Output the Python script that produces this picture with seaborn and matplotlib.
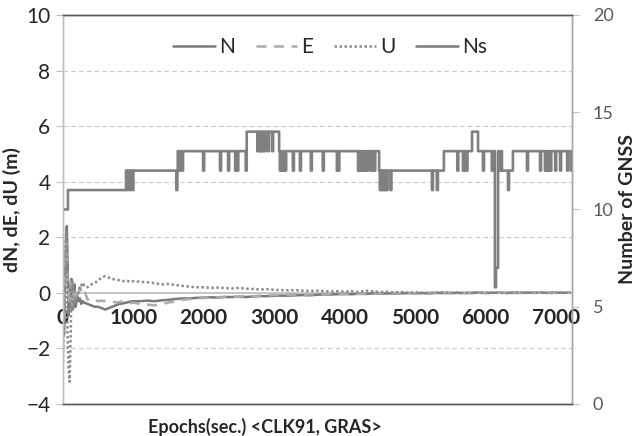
import numpy as np
import pandas as pd
import matplotlib
matplotlib.use("Agg")
import matplotlib.pyplot as plt
import seaborn as sns

# ---- position errors (m) ----
epochs = [0, 15, 30, 45, 55, 65, 80, 95, 110, 120,
          135, 150, 165, 180, 200, 220, 240, 260, 280, 300,
          350, 400, 450, 500, 550, 600, 650, 700, 750, 800,
          850, 900, 950, 1000] + list(range(1100, 7300, 100))

dN = [0.0, -1.5, 0.8, 2.0, 2.4, 1.2, -0.8, -0.5, 0.3, 0.5,
      -0.6, -0.2, 0.3, -0.5, -0.1, -0.3, -0.2, -0.4, -0.3, -0.35,
      -0.4, -0.45, -0.5, -0.5, -0.55, -0.6, -0.55, -0.5, -0.45, -0.4,
      -0.38, -0.35, -0.32, -0.3,
      -0.3, -0.28, -0.3, -0.27, -0.25, -0.22, -0.2, -0.2, -0.18, -0.17,
      -0.16, -0.17, -0.15, -0.15, -0.14, -0.15, -0.13, -0.12, -0.12, -0.11,
      -0.1, -0.1, -0.09, -0.08, -0.09, -0.07, -0.06, -0.06, -0.05, -0.04,
      -0.05, -0.03, -0.04, -0.02, -0.03, -0.02, -0.03, -0.02, -0.01, -0.02,
      -0.01, -0.02, 0.0, -0.01, -0.01, 0.0, -0.01, 0.0, 0.01, 0.0,
      0.0, 0.01, 0.0, 0.01, 0.0, 0.01, 0.0, 0.01, 0.0, 0.01,
      0.0, 0.01]

dE = [0.0, -0.8, 1.2, 1.8, 1.5, 0.5, -0.4, 0.2, 0.4, -0.3,
      -0.5, 0.1, 0.2, -0.2, 0.1, 0.0, 0.2, 0.1, 0.2, 0.1,
      -0.25, -0.2, -0.25, -0.3, -0.28, -0.3, -0.32, -0.3, -0.35, -0.33,
      -0.3, -0.35, -0.38, -0.35,
      -0.4, -0.42, -0.45, -0.4, -0.35, -0.3, -0.25, -0.22, -0.2, -0.18,
      -0.17, -0.16, -0.14, -0.15, -0.13, -0.12, -0.12, -0.1, -0.1, -0.08,
      -0.09, -0.07, -0.06, -0.07, -0.05, -0.05, -0.06, -0.04, -0.03, -0.05,
      -0.02, -0.04, -0.03, 0.02, -0.02, -0.01, -0.03, -0.01, 0.0, -0.02,
      -0.01, 0.0, -0.01, 0.01, 0.0, -0.01, 0.0, 0.01, 0.0, -0.01,
      0.0, 0.01, 0.0, -0.01, 0.0, 0.01, 0.0, 0.0, 0.01, 0.0,
      0.01, 0.0]

dU = [-2.5, -1.0, 1.5, 2.2, 1.0, -1.5, -2.8, -3.2, -1.5, 0.0,
      0.4, -0.6, -0.2, -0.3, -0.1, 0.0, 0.2, 0.3, 0.2, 0.3,
      0.2, 0.3, 0.35, 0.45, 0.55, 0.6, 0.55, 0.5, 0.48, 0.45,
      0.42, 0.45, 0.4, 0.42,
      0.4, 0.38, 0.35, 0.3, 0.32, 0.28, 0.25, 0.22, 0.2, 0.2,
      0.18, 0.19, 0.17, 0.16, 0.18, 0.15, 0.14, 0.12, 0.13, 0.11,
      0.1, 0.09, 0.1, 0.08, 0.07, 0.08, 0.06, 0.05, 0.06, 0.04,
      0.06, 0.03, 0.08, 0.05, 0.03, 0.04, 0.02, 0.03, 0.01, 0.02,
      0.01, 0.0, 0.01, 0.02, 0.0, 0.01, 0.0, -0.01, 0.01, 0.0,
      0.01, 0.0, -0.01, 0.0, 0.01, 0.0, 0.0, 0.01, -0.01, 0.0,
      0.01, 0.0]

# ---- number of satellites: base levels and short dips ----
ns_level_epochs = [0, 70, 895, 1630, 2610, 3070, 4490, 5410, 5810, 5895, 6235, 6390]
ns_level_values = [10, 11, 12, 13, 14, 13, 12, 13, 14, 13, 12, 13]

ns_dip_epochs = [910, 950, 985, 1610,
                 1650, 1690, 1990, 2230, 2345, 2445, 2475, 2595,
                 2760, 2785, 2810, 2835, 2860, 2910, 2970,
                 3080, 3105, 3130, 3155, 3265, 3365, 3520, 3690,
                 3890, 3910, 4190, 4215, 4240, 4270, 4295, 4320, 4370, 4395, 4420,
                 4500, 4520, 4545, 4570, 4595, 4650, 5240, 5310,
                 5600, 5680, 5705, 5730,
                 5965, 6090, 6110, 6135, 6150, 6165, 6200, 6215,
                 6320,
                 6590, 6775, 6845, 6870, 6895, 6920, 6990, 7060, 7160, 7215]
ns_dip_values = [11, 11, 11, 11,
                 12, 12, 12, 12, 12, 12, 12, 12,
                 13, 13, 13, 13, 13, 13, 13,
                 12, 12, 12, 12, 12, 12, 12, 12,
                 12, 12, 12, 12, 12, 12, 12, 12, 12, 12, 12,
                 11, 11, 11, 11, 11, 11, 11, 11,
                 12, 12, 12, 12,
                 12, 12, 12, 6, 7, 7, 12, 12,
                 11,
                 12, 12, 12, 12, 12, 12, 12, 12, 12, 12]
DIP_LEN = 15

t = np.arange(0, 7230, 5)
base = np.array(ns_level_values)[np.searchsorted(ns_level_epochs, t, side="right") - 1]
ns = base.astype(float)
for d, v in zip(ns_dip_epochs, ns_dip_values):
    ns[(t >= d) & (t < d + DIP_LEN)] = v

df = pd.DataFrame({"epoch": epochs, "N": dN, "E": dE, "U": dU})
df_ns = pd.DataFrame({"epoch": t, "Ns": ns})

sns.set_style("white")
plt.rcParams["font.family"] = ["Lato", "DejaVu Sans"]

fig = plt.figure(figsize=(6.38, 4.36), dpi=100)
ax = fig.add_axes([0.0987, 0.0734, 0.7979, 0.8922])
ax2 = ax.twinx()

for v in [-2, 2, 4, 6, 8]:
    ax.axhline(v, color="#c8c8c8", lw=0.8, ls=(0, (4, 3)), zorder=0)
ax.axhline(0, color="#c0c0c0", lw=1.3, zorder=0)

sns.lineplot(data=df, x="epoch", y="N", ax=ax, color="#7a7a7a", lw=1.8,
             errorbar=None, label="N", legend=False)
sns.lineplot(data=df, x="epoch", y="E", ax=ax, color="#ababab", lw=1.8,
             errorbar=None, label="E", legend=False, linestyle=(0, (4, 3)))
sns.lineplot(data=df, x="epoch", y="U", ax=ax, color="#8c8c8c", lw=1.8,
             errorbar=None, label="U", legend=False, linestyle=(0, (1, 1)))
sns.lineplot(data=df_ns, x="epoch", y="Ns", ax=ax2, color="#808080", lw=1.9,
             errorbar=None, label="Ns", legend=False, drawstyle="steps-post")

ax.set_xlim(0, 7230)
ax.set_ylim(-4, 10)
ax2.set_ylim(0, 20)
ax.set_yticks(range(-4, 11, 2))
ax2.set_yticks(range(0, 21, 5))

ax.set_xticks([])
ax.set_xlabel("")
sec = ax.secondary_xaxis(4 / 14)
sec.set_xticks(range(0, 8000, 1000))
sec.tick_params(length=0, pad=11)
for lbl in sec.get_xticklabels():
    lbl.set_fontweight("bold")
    lbl.set_fontsize(15)
    lbl.set_color("#262626")
sec.spines["bottom"].set_visible(False)
sec.spines["top"].set_visible(False)

ax.tick_params(axis="y", length=5, width=0.8, color="#bfbfbf", pad=4,
               labelsize=15, labelcolor="#262626", left=True)
ax2.tick_params(axis="y", length=5, width=0.8, color="#bfbfbf", pad=10,
                labelsize=13, labelcolor="#595959", right=True)

for a in (ax, ax2):
    a.spines["top"].set_color("#595959")
    a.spines["bottom"].set_color("#595959")
    a.spines["left"].set_color("#bfbfbf")
    a.spines["right"].set_color("#a6a6a6")
    for s in a.spines.values():
        s.set_linewidth(1.0)

ax.set_ylabel("dN, dE, dU (m)", fontsize=14, fontweight="bold", labelpad=4)
ax2.set_ylabel("Number of GNSS", fontsize=14, fontweight="bold", rotation=90, labelpad=4)
fig.text(265 / 638, 1 - 427 / 436, "Epochs(sec.) <CLK91, GRAS>", fontsize=13,
         fontweight="bold", ha="center", va="center", color="#262626")

h1, l1 = ax.get_legend_handles_labels()
h2, l2 = ax2.get_legend_handles_labels()
ax2.legend(h1 + h2, l1 + l2, loc="center", bbox_to_anchor=(0.525, 0.918), ncol=4,
           frameon=False, fontsize=15, handlelength=2.0, handletextpad=0.2,
           columnspacing=1.0)

fig.savefig("out.png", dpi=100)
